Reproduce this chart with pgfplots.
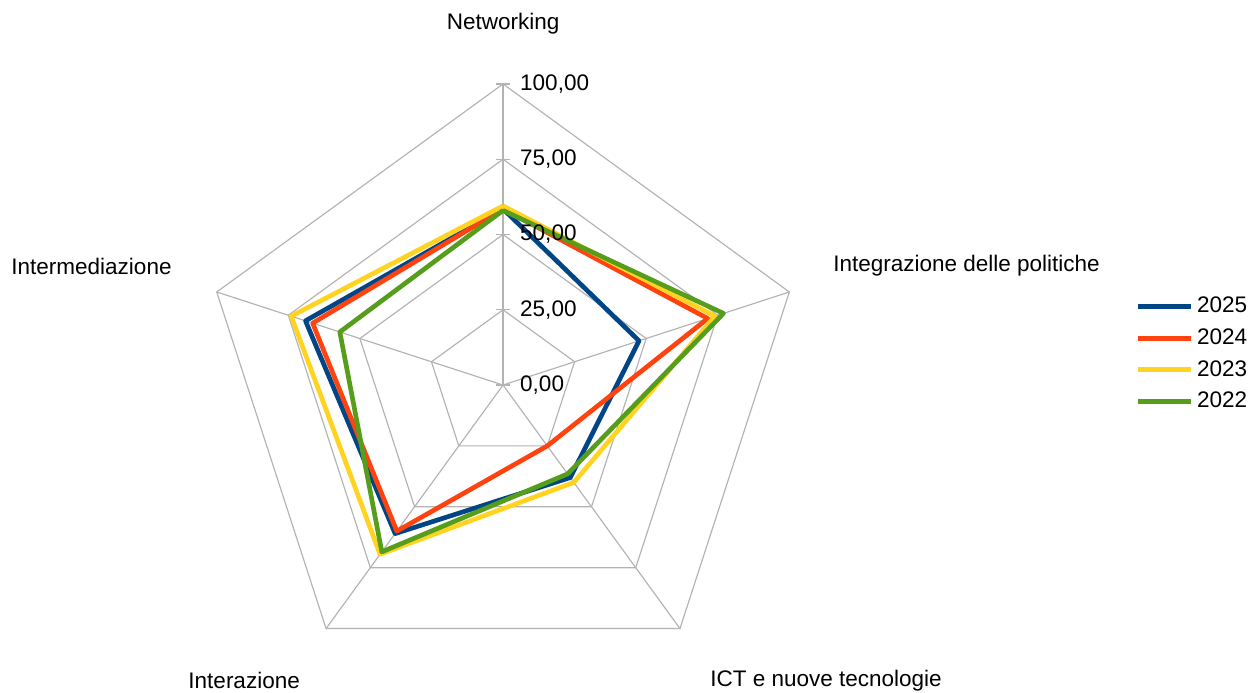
\documentclass[border=0pt]{standalone}
\usepackage{pgfplots}
\pgfplotsset{compat=1.18}
\usepackage{fontspec}
\setmainfont{Liberation Sans}
\definecolor{c2025}{HTML}{004586}
\definecolor{c2024}{HTML}{FF420E}
\definecolor{c2023}{HTML}{FFD320}
\definecolor{c2022}{HTML}{579D1C}
\definecolor{gridc}{HTML}{B3B3B3}
\begin{document}
\fontsize{13.5}{16}\selectfont
\begin{tikzpicture}
\begin{axis}[
  x=1.806pt, y=1.806pt,
  xmin=-167.1, xmax=248.8, ymin=-102.3, ymax=127.9,
  axis lines=none, clip=false,
  legend style={at={(axis cs:208.3,10.3)}, anchor=west, draw=none, fill=none,
    font=\fontsize{13.5}{16}\selectfont, row sep=3.6pt},
  legend cell align=left,
  legend image code/.code={\draw[#1, line width=3pt] (0pt,0pt) -- (32pt,0pt);},
]
% grid pentagons
\pgfplotsinvokeforeach{25,50,75,100}{
  \addplot[gridc, line width=0.7pt, data cs=polar, forget plot]
    coordinates {(90,#1) (18,#1) (-54,#1) (-126,#1) (162,#1) (90,#1)};
}
% spokes
\pgfplotsinvokeforeach{90,18,-54,-126,162}{
  \addplot[gridc, line width=0.7pt, data cs=polar, forget plot]
    coordinates {(#1,0) (#1,100)};
}
% tick marks on the Networking spoke
\pgfplotsinvokeforeach{0,25,50,75,100}{
  \addplot[gridc, line width=0.7pt, forget plot]
    coordinates {(-2.2,#1) (2.2,#1)};
}
% data series: Networking, Integrazione, ICT, Interazione, Intermediazione
\addplot[c2025, line width=2.8pt, line join=round, data cs=polar]
  coordinates {(90,58.5) (18,47.5) (-54,38) (-126,61) (162,69) (90,58.5)};
\addlegendentry{2025}
\addplot[c2024, line width=2.8pt, line join=round, data cs=polar]
  coordinates {(90,58.5) (18,71.5) (-54,25) (-126,60) (162,66.5) (90,58.5)};
\addlegendentry{2024}
\addplot[c2023, line width=2.8pt, line join=round, data cs=polar]
  coordinates {(90,59.5) (18,74) (-54,40) (-126,69.5) (162,74) (90,59.5)};
\addlegendentry{2023}
\addplot[c2022, line width=2.8pt, line join=round, data cs=polar]
  coordinates {(90,58) (18,77) (-54,36.5) (-126,68.5) (162,57) (90,58)};
\addlegendentry{2022}
% tick labels
\node[anchor=west, inner sep=0pt] at (axis cs:5.6,100) {100,00};
\node[anchor=west, inner sep=0pt] at (axis cs:5.6,75) {75,00};
\node[anchor=west, inner sep=0pt] at (axis cs:5.6,50) {50,00};
\node[anchor=west, inner sep=0pt] at (axis cs:5.6,25) {25,00};
\node[anchor=west, inner sep=0pt] at (axis cs:5.6,0) {0,00};
% category labels
\node[inner sep=0pt] at (axis cs:0,119.9) {Networking};
\node[anchor=west, inner sep=0pt] at (axis cs:109.6,39.5) {Integrazione delle politiche};
\node[inner sep=0pt] at (axis cs:107.3,-98.3) {ICT e nuove tecnologie};
\node[inner sep=0pt] at (axis cs:-86.0,-98.3) {Interazione};
\node[anchor=east, inner sep=0pt] at (axis cs:-110,39.5) {Intermediazione};
\end{axis}
\pgfresetboundingbox
\path (current axis.south west) rectangle (current axis.north east);
\end{tikzpicture}
\end{document}
